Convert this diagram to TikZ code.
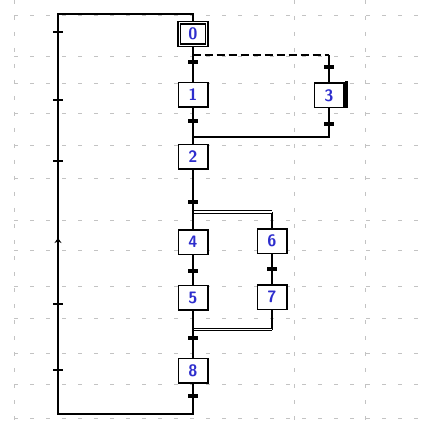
\documentclass[tikz,border=0pt]{standalone}
\usepackage{fontspec}
\usepackage{tikz}
\usetikzlibrary{arrows.meta}
\definecolor{stepblue}{RGB}{45,45,205}
\definecolor{gridgray}{RGB}{195,195,195}

\begin{document}
\begin{tikzpicture}[x=10pt,y=10pt,
  stepbox/.style={draw, line width=1.5pt, fill=white, minimum width=29.5pt,
    minimum height=24.5pt, text=stepblue, font=\sffamily\bfseries\fontsize{16.5}{18}\selectfont},
  initstep/.style={stepbox, double, line width=1.2pt, double distance=1.3pt,
    minimum width=27.5pt, minimum height=22.5pt},
  transbar/.style={fill=black, minimum width=10pt, minimum height=3.2pt},
  link/.style={line width=1.5pt},
  orlink/.style={link, dash pattern=on 8pt off 4pt},
  andlink/.style={double, line width=1.2pt, double distance=1.4pt},
  tick/.style={line width=1.6pt},
  gridline/.style={gridgray, line width=0.9pt, dash pattern=on 4pt off 12pt}]
\tikzstyle{every node}+=[inner sep=0pt]
\useasboundingbox (0,0) rectangle (42.2,-42.7);
% background grid
\foreach \y in {1.5,5.6,8.3,11.3,14.5,17.8,22.0,25.0,28.6,31.8,35.3,38.4,41.8}
  \draw [gridline] (1.4,-\y) -- (42.2,-\y);
\foreach \x in {1.4,29.4,36.5}
  \draw [gridline] (\x,0) -- (\x,-42.7);

% steps
\node [initstep] (s0) at (19.3,-3.4) {0};
\node [stepbox] (s1) at (19.3,-9.5) {1};
\node [stepbox] (s3) at (32.9,-9.55) {3};
\node [stepbox] (s2) at (19.3,-15.7) {2};
\node [stepbox] (s4) at (19.3,-24.2) {4};
\node [stepbox] (s6) at (27.2,-24.1) {6};
\node [stepbox] (s5) at (19.3,-29.75) {5};
\node [stepbox] (s7) at (27.2,-29.7) {7};
\node [stepbox] (s8) at (19.3,-37.05) {8};
\draw [line width=2.4pt] ([xshift=2pt,yshift=1pt]s3.north east) -- ([xshift=2pt]s3.south east);

% branch points
\coordinate (or1) at (19.25,-5.5);
\coordinate (or2) at (19.25,-13.7);
\coordinate (and1) at (19.25,-21.2);
\coordinate (and2) at (19.25,-32.95);
\coordinate (back1) at (5.8,-41.4);
\coordinate (back2) at (5.8,-1.4);

% selection: 0 -> 1 or 3 -> 2
\draw [link] (s0) -- (s1);
\draw [link] (s1) -- (s2);
\draw [orlink] (or1) -- (or1 -| s3);
\draw [link] (or1 -| s3) -- (s3);
\draw [link] (s3) -- (s3 |- or2) -- (or2);

% parallel: 2 -> 4,6 -> 5,7 -> 8
\draw [link] (and1 -| s6) -- (s6);
\draw [link] (s6) -- (s7);
\draw [link] (s7) -- (and2 -| s7);
\draw [andlink] (and1) -- (and1 -| s6);
\draw [andlink] (and2) -- (and2 -| s7);
\draw [link] (s2) -- (s4);
\draw [link] (s4) -- (s5);
\draw [link] (s5) -- (s8);

% loop back to the initial step
\draw [link] (s8) -- (s8 |- back1) -- (back1) -- (back2) -- (back2 -| s0) -- (s0);
\foreach \y in {3.2,10.0,16.1,30.4,37.0}
  \draw [tick] (5.3,-\y) -- (6.3,-\y);
\draw [link, -{Stealth[length=5pt,width=7pt]}] (5.8,-25.2) -- (5.8,-23.8);

% transitions
\node [transbar] (t1) at (19.3,-6.2) {};
\node [transbar] (t3) at (32.85,-6.7) {};
\node [transbar] (t12) at (19.3,-12.1) {};
\node [transbar] (t32) at (32.85,-12.4) {};
\node [transbar] (t2) at (19.3,-20.2) {};
\node [transbar] (t45) at (19.3,-27.1) {};
\node [transbar] (t67) at (27.2,-26.9) {};
\node [transbar] (t58) at (19.3,-33.8) {};
\node [transbar] (t8) at (19.3,-39.6) {};
\end{tikzpicture}
\end{document}
